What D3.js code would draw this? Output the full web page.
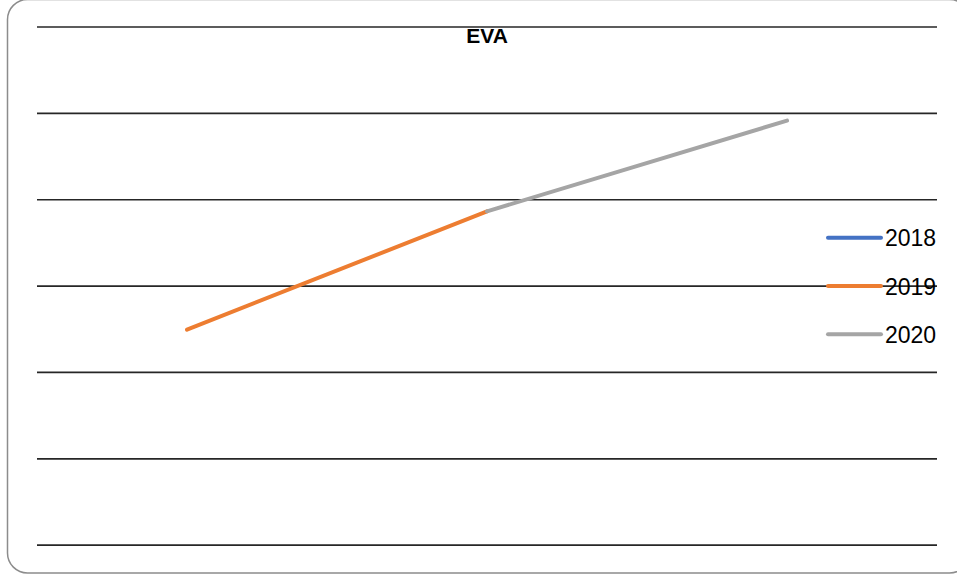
<!DOCTYPE html>
<html>
<head>
<meta charset="utf-8">
<script src="https://cdn.jsdelivr.net/npm/d3@7"></script>
<style>
  html, body { margin: 0; padding: 0; background: #fff; }
  svg { display: block; }
</style>
</head>
<body>
<svg id="chart" width="957" height="575"></svg>
<script>
// EVA by year
const categories = ["2018", "2019", "2020"];
const evaValues = [2.49, 3.86, 4.91];
const pointColors = ["#4472C4", "#ED7D31", "#A5A5A5"];
const yTicks = [0, 1, 2, 3, 4, 5, 6];
const chartTitle = "EVA";

const svg = d3.select("#chart");
const plot = { left: 37, right: 937, top: 26.5, bottom: 544.7 };

// Rounded chart frame
svg.append("rect")
  .attr("x", 7.5).attr("y", -0.5)
  .attr("width", 962).attr("height", 573.5)
  .attr("rx", 20).attr("ry", 20)
  .attr("fill", "#fff")
  .attr("stroke", "#8c8c8c")
  .attr("stroke-width", 1.5);

const x = d3.scaleBand()
  .domain(categories)
  .range([plot.left, plot.right]);

const y = d3.scaleLinear()
  .domain([yTicks[0], yTicks[yTicks.length - 1]])
  .range([plot.bottom, plot.top]);

// Horizontal gridlines via axis
const grid = svg.append("g")
  .attr("transform", `translate(${plot.left},0)`)
  .call(d3.axisRight(y)
    .tickValues(yTicks)
    .tickSize(plot.right - plot.left)
    .tickFormat(""));
grid.select(".domain").remove();
grid.selectAll(".tick line")
  .attr("stroke", "#262626")
  .attr("stroke-width", 1.7);

// Title
svg.append("text")
  .attr("x", (plot.left + plot.right) / 2)
  .attr("y", 42.5)
  .attr("text-anchor", "middle")
  .attr("font-family", "'Liberation Sans', Arial, sans-serif")
  .attr("font-weight", "bold")
  .attr("font-size", 21)
  .attr("fill", "#000")
  .text(chartTitle);

// Line segments, each coloured by the point it ends at
const pts = categories.map((c, i) => [x(c) + x.bandwidth() / 2, y(evaValues[i])]);
const line = d3.line();
for (let i = 1; i < pts.length; i++) {
  svg.append("path")
    .attr("d", line([pts[i - 1], pts[i]]))
    .attr("fill", "none")
    .attr("stroke", pointColors[i])
    .attr("stroke-width", 4)
    .attr("stroke-linecap", "round");
}

// Legend
const legendY = [237.7, 286, 334.3];
const legend = svg.append("g");
categories.forEach((c, i) => {
  legend.append("line")
    .attr("x1", 828).attr("x2", 881)
    .attr("y1", legendY[i]).attr("y2", legendY[i])
    .attr("stroke", pointColors[i])
    .attr("stroke-width", 4)
    .attr("stroke-linecap", "round");
  legend.append("text")
    .attr("x", 885)
    .attr("y", legendY[i] + 8.5)
    .attr("font-family", "'Liberation Sans', Arial, sans-serif")
    .attr("font-size", 23)
    .attr("fill", "#000")
    .text(c);
});
</script>
</body>
</html>
